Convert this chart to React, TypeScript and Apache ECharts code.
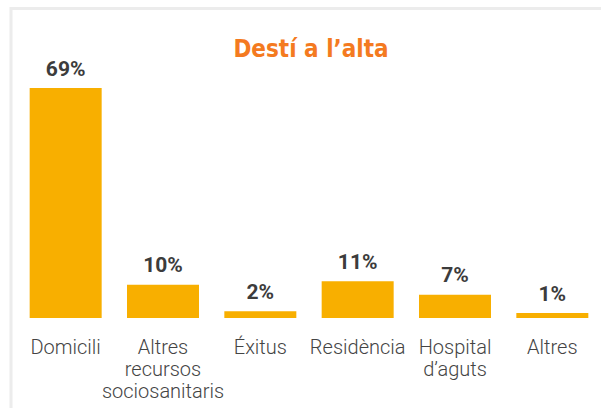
import React, { useEffect, useRef } from "react";
import * as echarts from "echarts";

const categories = [
  "Domicili",
  "Altres\nrecursos\nsociosanitaris",
  "Éxitus",
  "Residència",
  "Hospital\nd’aguts",
  "Altres",
];
const values = [69, 10, 2, 11, 7, 1];
const titleText = "Destí a l’alta";

export default function App() {
  const ref = useRef<HTMLDivElement>(null);
  useEffect(() => {
    if (!ref.current) return;
    const chart = echarts.init(ref.current, undefined, { renderer: "svg" });
    chart.setOption({
      animation: false,
      backgroundColor: "#ffffff",
      title: {
        text: titleText,
        left: 306,
        textAlign: "center",
        top: 32,
        textStyle: {
          color: "#F47A20",
          fontSize: 24,
          fontWeight: "bold",
          fontFamily: "DejaVu Sans Condensed",
        },
      },
      graphic: [
        {
          type: "rect",
          shape: { x: 11, y: 8.5, width: 800, height: 600 },
          style: { fill: "none", stroke: "#ececec", lineWidth: 3 },
          silent: true,
        },
      ],
      grid: { left: 17, right: 0, top: 88, bottom: 90, containLabel: false },
      xAxis: {
        type: "category",
        data: categories,
        axisLine: { show: false },
        axisTick: { show: false },
        axisLabel: {
          interval: 0,
          margin: 18,
          color: "#444444",
          fontSize: 20,
          fontWeight: 300,
          fontFamily: "Roboto",
          lineHeight: 22,
        },
      },
      yAxis: {
        type: "value",
        min: 0,
        max: 69,
        show: false,
        splitLine: { show: false },
      },
      series: [
        {
          type: "bar",
          data: values,
          barWidth: 72,
          barMinHeight: 5,
          itemStyle: { color: "#F8AF00" },
          label: {
            show: true,
            position: "top",
            distance: 9,
            formatter: "{c}%",
            color: "#3c3c3c",
            fontSize: 21,
            fontWeight: "bold",
            fontFamily: "Roboto",
          },
        },
      ],
    });
    return () => chart.dispose();
  }, []);
  return (
    <div
      ref={ref}
      style={{ position: "fixed", left: 0, top: 0, width: 601, height: 408 }}
    />
  );
}
